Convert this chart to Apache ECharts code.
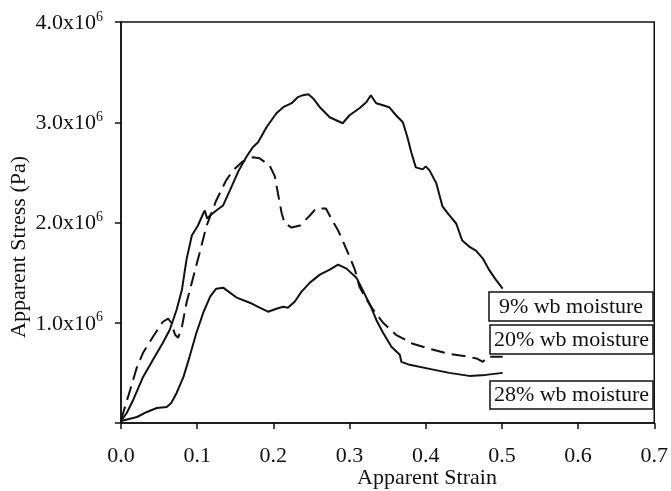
<!DOCTYPE html>
<html><head><meta charset="utf-8">
<script src="https://cdn.jsdelivr.net/npm/echarts@6/dist/echarts.min.js"></script>
<style>html,body{margin:0;padding:0;background:#fff}#c{width:671px;height:491px}</style>
</head><body><div id="c"></div>
<script>
// Apparent strain (x) and apparent stress in units of 10^6 Pa (y)
const strain9 = [0,0.0075,0.016,0.029,0.042,0.055,0.064,0.073,0.080,0.086,0.093,0.101,0.108,0.110,0.113,0.117,0.125,0.134,0.143,0.154,0.165,0.173,0.180,0.191,0.204,0.213,0.224,0.232,0.239,0.246,0.252,0.261,0.274,0.291,0.300,0.313,0.322,0.328,0.335,0.344,0.352,0.361,0.370,0.376,0.381,0.387,0.396,0.400,0.405,0.414,0.422,0.429,0.440,0.448,0.457,0.466,0.475,0.483,0.492,0.501];
const stress9 = [0.02,0.10,0.23,0.46,0.63,0.80,0.93,1.13,1.33,1.63,1.87,1.97,2.09,2.12,2.04,2.07,2.12,2.17,2.32,2.51,2.66,2.75,2.80,2.95,3.09,3.15,3.19,3.25,3.27,3.28,3.24,3.15,3.05,2.99,3.07,3.14,3.20,3.27,3.19,3.17,3.15,3.07,3.00,2.85,2.70,2.55,2.53,2.56,2.52,2.39,2.16,2.09,1.99,1.82,1.76,1.72,1.64,1.53,1.43,1.34];

const strain20 = [0,0.012,0.021,0.029,0.042,0.055,0.062,0.066,0.071,0.075,0.080,0.086,0.095,0.103,0.112,0.117,0.125,0.138,0.147,0.160,0.173,0.182,0.195,0.202,0.206,0.211,0.215,0.224,0.235,0.248,0.256,0.269,0.276,0.285,0.291,0.300,0.307,0.313,0.320,0.331,0.344,0.361,0.383,0.405,0.431,0.457,0.468,0.475,0.481,0.501];
const stress20 = [0.03,0.33,0.56,0.70,0.86,1.01,1.04,1.00,0.88,0.85,0.96,1.20,1.46,1.69,1.96,2.06,2.22,2.42,2.52,2.61,2.65,2.64,2.57,2.46,2.29,2.09,1.99,1.95,1.97,2.07,2.14,2.14,2.04,1.92,1.82,1.66,1.53,1.36,1.26,1.13,1.00,0.88,0.79,0.74,0.69,0.66,0.64,0.61,0.66,0.66];

const strain28 = [0,0.021,0.034,0.047,0.060,0.066,0.073,0.082,0.090,0.099,0.108,0.117,0.125,0.134,0.143,0.152,0.169,0.182,0.193,0.204,0.213,0.219,0.228,0.237,0.248,0.261,0.274,0.285,0.296,0.309,0.317,0.328,0.335,0.344,0.355,0.366,0.368,0.379,0.405,0.431,0.457,0.479,0.501];
const stress28 = [0.02,0.06,0.11,0.15,0.16,0.20,0.30,0.46,0.66,0.90,1.10,1.26,1.34,1.35,1.30,1.25,1.20,1.15,1.11,1.14,1.16,1.15,1.21,1.31,1.40,1.48,1.53,1.58,1.54,1.45,1.33,1.16,1.03,0.90,0.76,0.68,0.61,0.58,0.54,0.50,0.47,0.48,0.50];

const seriesNames = ['9% wb moisture','20% wb moisture','28% wb moisture'];
const yTickLabels = ['', '1.0x10', '2.0x10', '3.0x10', '4.0x10'];
const xTitle = 'Apparent Strain';
const yTitle = 'Apparent Stress (Pa)';

function pairs(xs, ys){ return xs.map((x,i)=>[x, ys[i]]); }

const FONT = '"Liberation Serif","DejaVu Serif",serif';
const chart = echarts.init(document.getElementById('c'));
const lineBase = {type:'line', showSymbol:false, symbol:'none', smooth:false, animation:false};
chart.setOption({
  animation:false,
  backgroundColor:'#fff',
  grid:{left:121, right:16, top:22, bottom:68, show:true, borderColor:'#111', borderWidth:1.5, backgroundColor:'transparent'},
  xAxis:{type:'value', min:0, max:0.7, interval:0.1,
    axisLine:{show:true, onZero:false, lineStyle:{color:'#111', width:1.5}},
    axisTick:{show:true, inside:false, length:6, lineStyle:{color:'#111', width:1.5}},
    axisLabel:{margin:22, color:'#111', fontFamily:FONT, fontSize:22, formatter:v=>v.toFixed(1)},
    splitLine:{show:false}},
  yAxis:{type:'value', min:0, max:4, interval:1,
    axisLine:{show:true, lineStyle:{color:'#111', width:1.5}},
    axisTick:{show:true, inside:false, length:6, lineStyle:{color:'#111', width:1.5}},
    axisLabel:{margin:18, color:'#111', fontFamily:FONT, fontSize:22,
      formatter:v=>{const t=yTickLabels[Math.round(v)]; return t ? '{m|'+t+'}{s|6}' : '';},
      rich:{m:{fontFamily:FONT, fontSize:22, color:'#111', lineHeight:24, verticalAlign:'bottom'},
            s:{fontFamily:FONT, fontSize:14, color:'#111', lineHeight:24, verticalAlign:'top', padding:[0,0,10,0]}}},
    splitLine:{show:false}},
  series:[
    Object.assign({}, lineBase, {name:seriesNames[0], data:pairs(strain9, stress9), lineStyle:{color:'#111', width:2}}),
    Object.assign({}, lineBase, {name:seriesNames[1], data:pairs(strain20, stress20), lineStyle:{color:'#111', width:2, type:[14,7]}}),
    Object.assign({}, lineBase, {name:seriesNames[2], data:pairs(strain28, stress28), lineStyle:{color:'#111', width:2}})
  ],
  graphic:[
    {type:'text', left:357, top:467, style:{text:xTitle, font:'22px '+FONT, fill:'#111'}},
    {type:'text', x:8, y:338, rotation:Math.PI/2, style:{text:yTitle, font:'22px '+FONT, fill:'#111', textVerticalAlign:'top'}},
    {type:'rect', shape:{x:489, y:292, width:164, height:29}, style:{fill:'#fff', stroke:'#111', lineWidth:1.5}, z:10},
    {type:'text', x:571, y:307, style:{text:seriesNames[0], font:'22px '+FONT, fill:'#111', textAlign:'center', textVerticalAlign:'middle'}, z:11},
    {type:'rect', shape:{x:490, y:325, width:163, height:29}, style:{fill:'#fff', stroke:'#111', lineWidth:1.5}, z:10},
    {type:'text', x:571.5, y:340, style:{text:seriesNames[1], font:'22px '+FONT, fill:'#111', textAlign:'center', textVerticalAlign:'middle'}, z:11},
    {type:'rect', shape:{x:490, y:381, width:163, height:28}, style:{fill:'#fff', stroke:'#111', lineWidth:1.5}, z:10},
    {type:'text', x:571.5, y:395.5, style:{text:seriesNames[2], font:'22px '+FONT, fill:'#111', textAlign:'center', textVerticalAlign:'middle'}, z:11}
  ]
});
</script></body></html>
